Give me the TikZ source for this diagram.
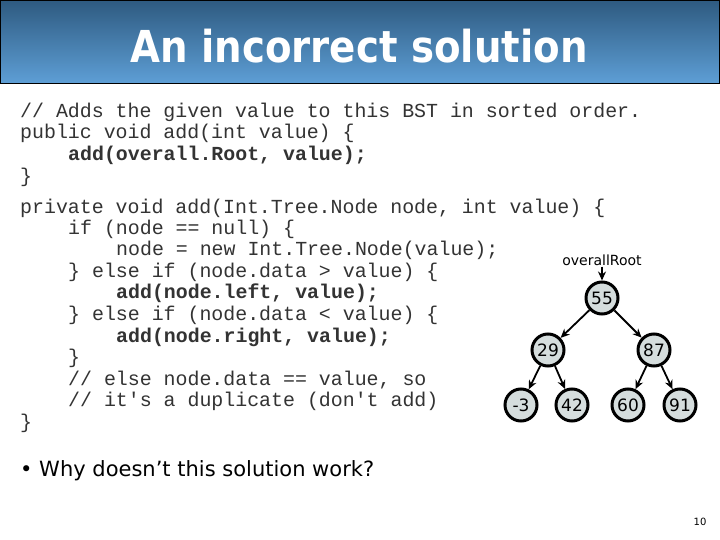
\documentclass[tikz,border=0pt]{standalone}
\usepackage{fontspec}
\setmainfont{DejaVu Sans}
\newfontfamily\codefont{Liberation Mono}
\usetikzlibrary{arrows.meta}
\definecolor{topblue}{HTML}{2E5A80}
\definecolor{botblue}{HTML}{5E9FD6}
\definecolor{codegray}{HTML}{333333}
\definecolor{nodefill}{HTML}{D5DDDD}
\begin{document}
\begin{tikzpicture}[x=1pt,y=-1pt,
  codeline/.style={anchor=west,inner sep=0pt,font=\codefont\fontsize{19.9}{20}\selectfont,text=codegray},
  tnode/.style={circle,draw=black,line width=3pt,fill=nodefill,minimum size=32pt,inner sep=0pt,font=\fontsize{17}{18}\selectfont},
  edge/.style={-{Stealth[length=9pt,width=8pt]},line width=1.8pt}]
\useasboundingbox (0,0) rectangle (720,540);
\fill[white] (0,0) rectangle (720,540);
\shade[top color=topblue,bottom color=botblue] (0,0) rectangle (720,84);
\draw[black,line width=1pt] (0.5,0.5) rectangle (719.5,84);
\node[text=white,font=\bfseries\fontsize{44}{48}\selectfont] (title) at (359,46) {\scalebox{0.88}[1]{An incorrect solution}};
\node[codeline] (c1) at (20,112) {// Adds the given value to this BST in sorted order.};
\node[codeline] (c2) at (20,133) {public void add(int value) \{};
\node[codeline] (c3) at (68,155) {\bfseries add(overall.Root, value);};
\node[codeline] (c4) at (20,177) {\}};
\node[codeline] (c5) at (20,208) {private void add(Int.Tree.Node node, int value) \{};
\node[codeline] (c6) at (68,229) {if (node == null) \{};
\node[codeline] (c7) at (116,250) {node = new Int.Tree.Node(value);};
\node[codeline] (c8) at (68,272) {\} else if (node.data > value) \{};
\node[codeline] (c9) at (116,293) {\bfseries add(node.left, value);};
\node[codeline] (c10) at (68,315) {\} else if (node.data < value) \{};
\node[codeline] (c11) at (116,337) {\bfseries add(node.right, value);};
\node[codeline] (c12) at (68,358) {\}};
\node[codeline] (c13) at (68,380) {// else node.data == value, so};
\node[codeline] (c14) at (68,401) {// it{\char"27}s a duplicate (don{\char"27}t add)};
\node[codeline] (c15) at (20,423) {\}};
\node[anchor=west,inner sep=0pt,font=\fontsize{21}{22}\selectfont] (q) at (20,471) {• Why doesn{\char"27}t this solution work?};
\node[font=\fontsize{10}{12}\selectfont] (pg) at (700,522) {10};
\node[font=\fontsize{14}{15}\selectfont,inner sep=1pt] (root) at (602,260) {overallRoot};
\node[tnode] (n55) at (602,298) {55};
\node[tnode] (n29) at (548,350) {29};
\node[tnode] (n87) at (654,350) {87};
\node[tnode] (nm3) at (521,405) {-3};
\node[tnode] (n42) at (572,405) {42};
\node[tnode] (n60) at (628,405) {60};
\node[tnode] (n91) at (680,405) {91};
\draw[edge] (root) -- (n55);
\draw[edge] (n55) -- (n29);
\draw[edge] (n55) -- (n87);
\draw[edge] (n29) -- (nm3);
\draw[edge] (n29) -- (n42);
\draw[edge] (n87) -- (n60);
\draw[edge] (n87) -- (n91);
\end{tikzpicture}
\end{document}
